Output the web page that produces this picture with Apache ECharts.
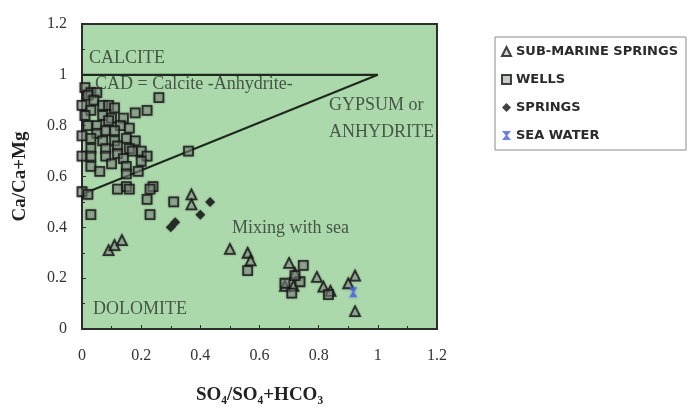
<!DOCTYPE html>
<html>
<head>
<meta charset="utf-8">
<script src="https://cdn.jsdelivr.net/npm/echarts@6/dist/echarts.min.js"></script>
<style>html,body{margin:0;padding:0;background:#fff;}#c{width:688px;height:410px;}</style>
</head>
<body>
<div id="c"></div>
<script>
// ---- data ----
var xTicks = [0, 0.2, 0.4, 0.6, 0.8, 1, 1.2];
var yTicks = [0, 0.2, 0.4, 0.6, 0.8, 1, 1.2];

var subMarineSprings = [
  [0.09,0.31],[0.11,0.33],[0.135,0.35],[0.37,0.53],[0.37,0.49],[0.50,0.315],
  [0.56,0.30],[0.57,0.27],[0.70,0.26],[0.72,0.22],[0.715,0.17],[0.686,0.17],
  [0.794,0.205],[0.816,0.167],[0.84,0.15],[0.923,0.21],[0.90,0.18],[0.923,0.07]
];
var wells = [
  [0.01,0.95],[0.03,0.93],[0.05,0.93],[0.02,0.92],[0.04,0.90],[0.07,0.88],[0.00,0.88],
  [0.03,0.86],[0.09,0.88],[0.11,0.87],[0.07,0.84],[0.10,0.83],[0.01,0.84],[0.09,0.82],
  [0.14,0.83],[0.18,0.85],[0.22,0.86],[0.26,0.91],[0.13,0.80],
  [0.02,0.80],[0.05,0.80],[0.08,0.78],[0.11,0.78],[0.16,0.79],[0.05,0.77],[0.00,0.76],
  [0.03,0.75],[0.07,0.74],[0.11,0.74],[0.15,0.75],[0.18,0.74],
  [0.03,0.71],[0.08,0.71],[0.12,0.72],[0.16,0.71],[0.20,0.70],[0.17,0.70],[0.12,0.69],
  [0.00,0.68],[0.03,0.68],[0.08,0.68],[0.14,0.67],[0.22,0.68],
  [0.03,0.64],[0.10,0.65],[0.15,0.64],[0.20,0.66],[0.06,0.62],[0.19,0.62],[0.15,0.61],
  [0.36,0.70],
  [0.15,0.56],[0.24,0.56],[0.00,0.54],[0.02,0.53],[0.12,0.55],[0.16,0.55],[0.23,0.55],
  [0.22,0.51],[0.31,0.50],[0.23,0.45],[0.03,0.45],
  [0.56,0.23],[0.748,0.25],[0.686,0.18],[0.709,0.141],[0.737,0.186],[0.833,0.135],[0.72,0.21]
];
var springs = [[0.433,0.50],[0.40,0.45],[0.315,0.42],[0.30,0.40]];
var seaWater = [[0.917,0.145]];

var calciteBoundary = [[0,1],[1,1]];
var cadBoundary = [[0,0.53],[1,1]];

var annotationTexts = ['CALCITE','CAD = Calcite -Anhydrite-','GYPSUM or','ANHYDRITE','Mixing with sea','DOLOMITE'];
var annotationPos = [[0.024,1.065],[0.044,0.962],[0.835,0.88],[0.835,0.776],[0.507,0.396],[0.037,0.077]];

var seriesNames = ['SUB-MARINE SPRINGS','WELLS','SPRINGS','SEA WATER'];
var xTitle = 'SO\u2084/SO\u2084+HCO\u2083';
var yTitle = 'Ca/Ca+Mg';

// ---- chart ----
var serif = '"Liberation Serif","DejaVu Serif",serif';
var markerShadow = {shadowBlur: 2, shadowColor: 'rgba(40,40,40,0.5)'};
var chart = echarts.init(document.getElementById('c'), null, {renderer: 'canvas'});

var annotationData = annotationTexts.map(function (t, i) {
  return {name: t, value: annotationPos[i]};
});

chart.setOption({
  animation: false,
  backgroundColor: '#ffffff',
  grid: {
    left: 82, right: 251, top: 24, bottom: 75,
    show: true, backgroundColor: '#acd9ac',
    borderColor: '#2a2f2a', borderWidth: 2
  },
  legend: {
    data: seriesNames,
    orient: 'vertical',
    left: 495, top: 37,
    padding: [8, 8, 8, 6],
    itemGap: 15,
    itemWidth: 9, itemHeight: 9,
    backgroundColor: '#ffffff',
    borderColor: '#8a8a8a', borderWidth: 1,
    textStyle: {fontFamily: '"DejaVu Sans",sans-serif', fontWeight: 'bold', fontSize: 13, color: '#2a2a2a'}
  },
  xAxis: {
    type: 'value', min: xTicks[0], max: xTicks[xTicks.length - 1], interval: 0.2,
    name: xTitle, nameLocation: 'middle', nameGap: 57,
    nameTextStyle: {fontFamily: serif, fontWeight: 'bold', fontSize: 19, color: '#222'},
    axisLine: {show: true, onZero: false, lineStyle: {color: '#2a2f2a', width: 2}},
    axisTick: {show: true, inside: true, length: 4, lineStyle: {color: '#2a2f2a'}},
    minorTick: {show: true, splitNumber: 2, length: 3, lineStyle: {color: '#2a2f2a'}},
    axisLabel: {margin: 19, fontFamily: serif, fontSize: 16, color: '#333'},
    splitLine: {show: false}
  },
  yAxis: {
    type: 'value', min: yTicks[0], max: yTicks[yTicks.length - 1], interval: 0.2,
    name: yTitle, nameLocation: 'middle', nameGap: 52, nameRotate: 90,
    nameTextStyle: {fontFamily: serif, fontWeight: 'bold', fontSize: 19, color: '#222'},
    axisLine: {show: true, onZero: false, lineStyle: {color: '#2a2f2a', width: 2}},
    axisTick: {show: true, inside: true, length: 4, lineStyle: {color: '#2a2f2a'}},
    minorTick: {show: true, splitNumber: 2, length: 3, lineStyle: {color: '#2a2f2a'}},
    axisLabel: {margin: 15, fontFamily: serif, fontSize: 16, color: '#333'},
    splitLine: {show: false}
  },
  series: [
    {
      name: 'calcite', type: 'line', data: calciteBoundary, symbol: 'none', silent: true,
      lineStyle: {color: '#1f2a1f', width: 2.2}, z: 1
    },
    {
      name: 'cad', type: 'line', data: cadBoundary, symbol: 'none', silent: true,
      lineStyle: {color: '#1f2a1f', width: 2.2}, z: 1
    },
    {
      name: 'annotations', type: 'scatter', data: annotationData, symbolSize: 0, silent: true, z: 2,
      label: {
        show: true, position: 'right', distance: 0,
        formatter: function (p) { return p.name; },
        fontFamily: serif, fontSize: 18, color: '#2b352b'
      }
    },
    {
      name: seriesNames[0], type: 'scatter', data: subMarineSprings, symbol: 'triangle', symbolSize: 10, z: 3,
      itemStyle: Object.assign({color: 'rgba(160,170,160,0.6)', borderColor: '#151515', borderWidth: 1.8}, markerShadow)
    },
    {
      name: seriesNames[1], type: 'scatter', data: wells, symbol: 'rect', symbolSize: 9, z: 3,
      itemStyle: Object.assign({color: 'rgba(140,150,140,0.6)', borderColor: '#151515', borderWidth: 1.8}, markerShadow)
    },
    {
      name: seriesNames[2], type: 'scatter', data: springs, symbol: 'diamond', symbolSize: 10, z: 3,
      itemStyle: Object.assign({color: '#111111'}, markerShadow)
    },
    {
      name: seriesNames[3], type: 'scatter', data: seaWater, symbol: 'path://M0,0H10L6,5L10,10H0L4,5Z', symbolSize: [8, 10], z: 4,
      itemStyle: {color: '#4a63d8', shadowBlur: 3, shadowColor: 'rgba(80,100,220,0.7)'}
    }
  ]
});
</script>
</body>
</html>
